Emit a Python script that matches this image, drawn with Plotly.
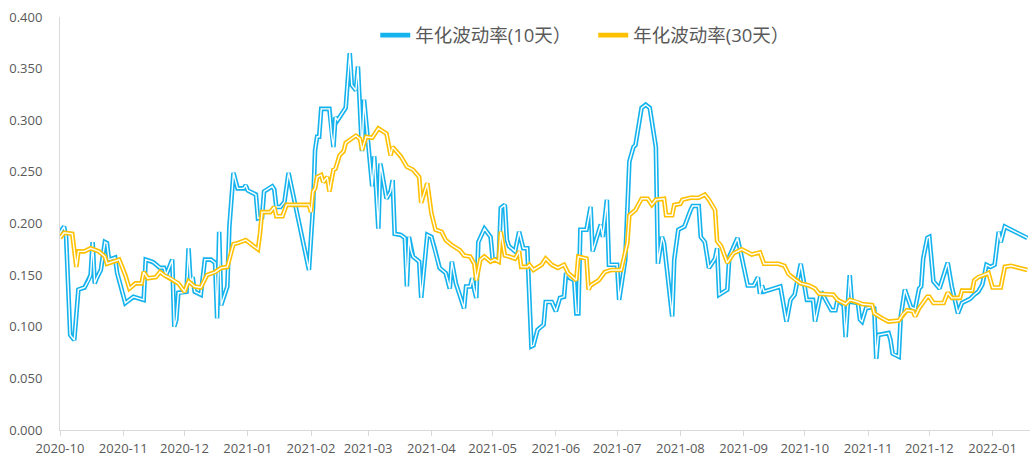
import plotly.graph_objects as go

# ---- data ----
dates_10d = [
    "2020-10-01","2020-10-03","2020-10-04","2020-10-06","2020-10-08","2020-10-10","2020-10-13","2020-10-15",
    "2020-10-16","2020-10-17","2020-10-18","2020-10-19","2020-10-21","2020-10-23","2020-10-24","2020-10-25",
    "2020-10-28","2020-10-29","2020-10-30","2020-11-02","2020-11-04","2020-11-06","2020-11-11","2020-11-12",
    "2020-11-15","2020-11-16","2020-11-19","2020-11-21","2020-11-22","2020-11-25","2020-11-26","2020-11-27",
    "2020-11-28","2020-11-30","2020-12-02","2020-12-03","2020-12-04","2020-12-05","2020-12-06","2020-12-09",
    "2020-12-11","2020-12-14","2020-12-16","2020-12-17","2020-12-18","2020-12-19","2020-12-22","2020-12-23",
    "2020-12-25","2020-12-27","2020-12-30","2020-12-31","2021-01-01","2021-01-05","2021-01-06","2021-01-08",
    "2021-01-09","2021-01-13","2021-01-14","2021-01-15","2021-01-17","2021-01-19","2021-01-21","2021-01-31",
    "2021-02-02","2021-02-03","2021-02-04","2021-02-05","2021-02-06","2021-02-10","2021-02-11","2021-02-12",
    "2021-02-13","2021-02-14","2021-02-18","2021-02-20","2021-02-21","2021-02-23","2021-02-24","2021-02-26",
    "2021-02-27","2021-03-03","2021-03-04","2021-03-06","2021-03-07","2021-03-10","2021-03-12","2021-03-13",
    "2021-03-14","2021-03-17","2021-03-19","2021-03-20","2021-03-21","2021-03-22","2021-03-23","2021-03-26",
    "2021-03-27","2021-03-30","2021-04-01","2021-04-03","2021-04-05","2021-04-08","2021-04-10","2021-04-11",
    "2021-04-13","2021-04-17","2021-04-18","2021-04-20","2021-04-21","2021-04-22","2021-04-23","2021-04-24",
    "2021-04-27","2021-04-30","2021-05-01","2021-05-04","2021-05-05","2021-05-07","2021-05-08","2021-05-09",
    "2021-05-12","2021-05-14","2021-05-16","2021-05-18","2021-05-20","2021-05-21","2021-05-23","2021-05-26",
    "2021-05-27","2021-05-30","2021-06-01","2021-06-03","2021-06-05","2021-06-06","2021-06-08","2021-06-10",
    "2021-06-11","2021-06-12","2021-06-13","2021-06-16","2021-06-18","2021-06-19","2021-06-23","2021-06-24",
    "2021-06-26","2021-06-27","2021-07-01","2021-07-02","2021-07-05","2021-07-07","2021-07-09","2021-07-10",
    "2021-07-13","2021-07-15","2021-07-17","2021-07-20","2021-07-21","2021-07-23","2021-07-24","2021-07-28",
    "2021-07-29","2021-07-31","2021-08-03","2021-08-06","2021-08-07","2021-08-10","2021-08-11","2021-08-13",
    "2021-08-15","2021-08-18","2021-08-19","2021-08-20","2021-08-24","2021-08-25","2021-08-29","2021-08-31",
    "2021-09-03","2021-09-06","2021-09-08","2021-09-09","2021-09-10","2021-09-11","2021-09-19","2021-09-22",
    "2021-09-24","2021-09-26","2021-09-29","2021-10-02","2021-10-05","2021-10-06","2021-10-09","2021-10-12",
    "2021-10-14","2021-10-16","2021-10-17","2021-10-20","2021-10-21","2021-10-23","2021-10-24","2021-10-27",
    "2021-10-28","2021-10-29","2021-10-31","2021-11-03","2021-11-04","2021-11-05","2021-11-06","2021-11-11",
    "2021-11-12","2021-11-13","2021-11-16","2021-11-17","2021-11-19","2021-11-22","2021-11-24","2021-11-26",
    "2021-11-27","2021-11-28","2021-11-30","2021-12-01","2021-12-03","2021-12-06","2021-12-10","2021-12-12",
    "2021-12-15","2021-12-17","2021-12-21","2021-12-23","2021-12-25","2021-12-27","2021-12-29","2021-12-31",
    "2022-01-02","2022-01-04","2022-01-05","2022-01-07","2022-01-18",
]
vol_10d = [
    0.191,0.197,0.187,0.092,0.087,0.136,0.138,0.145,
    0.150,0.182,0.142,0.147,0.155,0.182,0.181,0.165,
    0.167,0.152,0.145,0.123,0.126,0.129,0.126,0.165,
    0.163,0.162,0.157,0.157,0.150,0.165,0.100,0.107,
    0.133,0.133,0.134,0.176,0.142,0.148,0.134,0.131,
    0.165,0.165,0.162,0.108,0.192,0.121,0.139,0.197,
    0.249,0.234,0.234,0.237,0.232,0.228,0.205,0.206,
    0.231,0.236,0.233,0.216,0.216,0.221,0.249,0.155,
    0.216,0.271,0.284,0.284,0.311,0.311,0.287,0.274,
    0.303,0.300,0.312,0.365,0.334,0.329,0.352,0.270,
    0.320,0.236,0.265,0.195,0.258,0.224,0.231,0.242,
    0.190,0.189,0.186,0.139,0.187,0.174,0.168,0.163,
    0.128,0.189,0.187,0.173,0.157,0.152,0.137,0.163,
    0.142,0.118,0.139,0.139,0.147,0.136,0.128,0.182,
    0.195,0.187,0.166,0.165,0.215,0.218,0.184,0.178,
    0.173,0.192,0.176,0.176,0.081,0.082,0.097,0.102,
    0.124,0.124,0.115,0.128,0.129,0.152,0.147,0.145,
    0.113,0.113,0.194,0.194,0.216,0.173,0.199,0.187,
    0.223,0.160,0.160,0.126,0.165,0.260,0.274,0.276,
    0.312,0.315,0.312,0.274,0.161,0.187,0.181,0.110,
    0.165,0.194,0.197,0.213,0.217,0.217,0.187,0.182,
    0.157,0.166,0.176,0.131,0.136,0.168,0.186,0.168,
    0.140,0.140,0.148,0.132,0.140,0.134,0.139,0.105,
    0.126,0.131,0.161,0.126,0.126,0.105,0.134,0.123,
    0.116,0.116,0.126,0.121,0.090,0.150,0.124,0.123,
    0.107,0.105,0.118,0.119,0.118,0.069,0.092,0.094,
    0.087,0.074,0.071,0.110,0.136,0.119,0.117,0.137,
    0.139,0.166,0.186,0.187,0.144,0.137,0.162,0.139,
    0.113,0.123,0.127,0.131,0.134,0.141,0.160,0.158,
    0.160,0.192,0.182,0.197,0.186,
]

dates_30d = [
    "2020-10-01","2020-10-03","2020-10-07","2020-10-08","2020-10-09","2020-10-10","2020-10-13","2020-10-16",
    "2020-10-20","2020-10-23","2020-10-24","2020-10-27","2020-10-30","2020-11-02","2020-11-04","2020-11-07",
    "2020-11-10","2020-11-11","2020-11-13","2020-11-17","2020-11-19","2020-11-21","2020-11-24","2020-11-28",
    "2020-12-01","2020-12-03","2020-12-06","2020-12-09","2020-12-12","2020-12-16","2020-12-19","2020-12-22",
    "2020-12-24","2020-12-25","2020-12-27","2020-12-31","2021-01-02","2021-01-06","2021-01-07","2021-01-08",
    "2021-01-12","2021-01-14","2021-01-15","2021-01-18","2021-01-20","2021-01-31","2021-02-01","2021-02-02",
    "2021-02-03","2021-02-04","2021-02-06","2021-02-07","2021-02-09","2021-02-10","2021-02-12","2021-02-13",
    "2021-02-15","2021-02-17","2021-02-18","2021-02-21","2021-02-23","2021-02-25","2021-02-26","2021-02-28",
    "2021-03-03","2021-03-04","2021-03-06","2021-03-10","2021-03-12","2021-03-13","2021-03-17","2021-03-20",
    "2021-03-23","2021-03-26","2021-03-27","2021-03-30","2021-04-01","2021-04-03","2021-04-06","2021-04-08",
    "2021-04-11","2021-04-15","2021-04-17","2021-04-20","2021-04-22","2021-04-23","2021-04-25","2021-04-27",
    "2021-04-30","2021-05-02","2021-05-04","2021-05-05","2021-05-07","2021-05-09","2021-05-12","2021-05-14",
    "2021-05-15","2021-05-18","2021-05-19","2021-05-21","2021-05-25","2021-05-27","2021-05-30","2021-06-02",
    "2021-06-05","2021-06-07","2021-06-09","2021-06-11","2021-06-12","2021-06-16","2021-06-17","2021-06-18",
    "2021-06-22","2021-06-25","2021-06-28","2021-07-03","2021-07-06","2021-07-07","2021-07-10","2021-07-13",
    "2021-07-16","2021-07-18","2021-07-20","2021-07-24","2021-07-25","2021-07-28","2021-07-29","2021-08-01",
    "2021-08-02","2021-08-06","2021-08-10","2021-08-13","2021-08-15","2021-08-18","2021-08-19","2021-08-21",
    "2021-08-24","2021-08-27","2021-08-31","2021-09-05","2021-09-09","2021-09-11","2021-09-18","2021-09-21",
    "2021-09-23","2021-09-26","2021-09-29","2021-10-03","2021-10-06","2021-10-08","2021-10-15","2021-10-17",
    "2021-10-21","2021-10-23","2021-10-27","2021-10-29","2021-11-03","2021-11-04","2021-11-08","2021-11-11",
    "2021-11-16","2021-11-18","2021-11-20","2021-11-23","2021-11-24","2021-11-26","2021-11-30","2021-12-01",
    "2021-12-03","2021-12-08","2021-12-10","2021-12-12","2021-12-16","2021-12-17","2021-12-22","2021-12-23",
    "2021-12-25","2021-12-28","2021-12-30","2022-01-01","2022-01-05","2022-01-06","2022-01-07","2022-01-10",
    "2022-01-18",
]
vol_30d = [
    0.186,0.191,0.190,0.176,0.158,0.173,0.173,0.176,
    0.173,0.168,0.161,0.163,0.165,0.150,0.137,0.142,
    0.142,0.153,0.147,0.148,0.153,0.150,0.147,0.142,
    0.134,0.144,0.139,0.138,0.150,0.153,0.157,0.158,
    0.173,0.180,0.181,0.184,0.181,0.175,0.190,0.211,
    0.211,0.216,0.207,0.207,0.218,0.218,0.211,0.231,
    0.234,0.245,0.247,0.240,0.245,0.231,0.252,0.253,
    0.266,0.270,0.278,0.282,0.285,0.282,0.271,0.284,
    0.283,0.286,0.292,0.287,0.266,0.274,0.265,0.255,
    0.252,0.245,0.220,0.239,0.210,0.194,0.192,0.184,
    0.179,0.174,0.169,0.168,0.161,0.145,0.165,0.168,
    0.163,0.165,0.163,0.192,0.169,0.168,0.166,0.173,
    0.158,0.158,0.160,0.155,0.160,0.166,0.160,0.157,
    0.160,0.152,0.148,0.145,0.168,0.166,0.136,0.140,
    0.145,0.153,0.155,0.155,0.181,0.208,0.213,0.224,
    0.224,0.218,0.223,0.224,0.208,0.208,0.218,0.219,
    0.223,0.225,0.225,0.228,0.223,0.213,0.183,0.178,
    0.162,0.171,0.175,0.170,0.172,0.161,0.161,0.159,
    0.151,0.146,0.142,0.140,0.137,0.132,0.131,0.126,
    0.122,0.126,0.124,0.122,0.121,0.113,0.108,0.105,
    0.106,0.112,0.116,0.115,0.110,0.118,0.129,0.129,
    0.123,0.123,0.133,0.128,0.128,0.135,0.135,0.145,
    0.148,0.150,0.152,0.138,0.138,0.148,0.158,0.159,
    0.155,
]

series_names = ["年化波动率(10天）", "年化波动率(30天）"]
series_colors = ["#14B3EE", "#FFC000"]
y_tick_values = [0.0, 0.05, 0.10, 0.15, 0.20, 0.25, 0.30, 0.35, 0.40]

fig = go.Figure()
for name, color, xs, ys in [
    (series_names[0], series_colors[0], dates_10d, vol_10d),
    (series_names[1], series_colors[1], dates_30d, vol_30d),
]:
    # outer coloured stroke
    fig.add_trace(go.Scatter(x=xs, y=ys, mode="lines", name=name,
                             line=dict(color=color, width=4.6), hoverinfo="skip"))
    # inner white stroke -> Excel "double line" look
    fig.add_trace(go.Scatter(x=xs, y=ys, mode="lines", showlegend=False,
                             line=dict(color="white", width=1.4), hoverinfo="skip"))

label_font = dict(family="Open Sans, Noto Sans CJK SC, sans-serif", size=13, color="#595959")

fig.update_layout(
    width=1032, height=456,
    margin=dict(l=60, r=2, t=17, b=26, autoexpand=False),
    paper_bgcolor="white", plot_bgcolor="white",
    font=label_font,
    hovermode=False,
    legend=dict(
        orientation="h", x=0.325, xanchor="left", y=0.955, yanchor="middle",
        bgcolor="rgba(0,0,0,0)",
        font=dict(family="Open Sans, Noto Sans CJK SC, sans-serif", size=18.5, color="#595959"),
        itemwidth=30, entrywidth=173,
    ),
    xaxis=dict(
        type="date",
        range=["2020-10-01", "2022-01-19 08:00"],
        tick0="2020-10-01", dtick="M1", tickformat="%Y-%m",
        showgrid=False, zeroline=False,
        showline=True, linecolor="#D9D9D9", linewidth=1,
        ticks="outside", ticklen=5, tickcolor="#D9D9D9",
        ticklabelstandoff=1,
        tickfont=label_font,
    ),
    yaxis=dict(
        range=[0, 0.4], tickvals=y_tick_values, tickformat=".3f",
        showgrid=False, zeroline=False,
        showline=True, linecolor="#D9D9D9", linewidth=1,
        ticks="", ticklabelstandoff=14,
        tickfont=label_font,
    ),
)

fig.write_html("out.html", config={"displayModeBar": False},
               post_script="document.body.style.margin='0';")
